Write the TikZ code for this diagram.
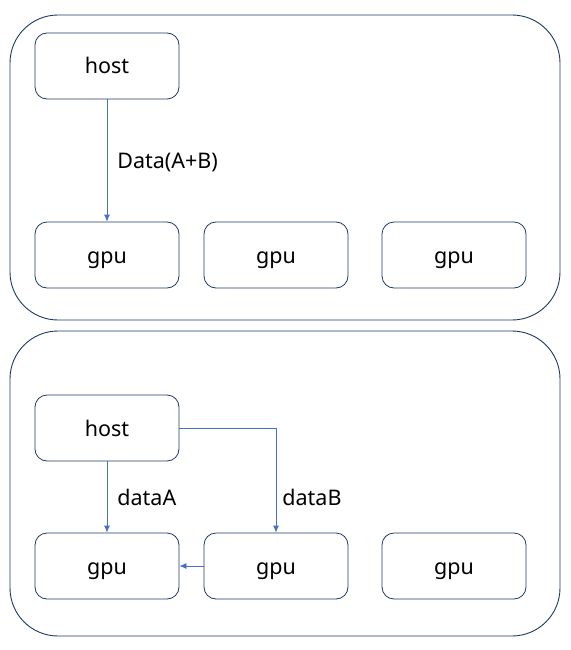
\documentclass[tikz,border=0pt]{standalone}
\usepackage{fontspec}
\setmainfont{Noto Sans}
\usepackage{xcolor}
\usepackage{tikz}
\usetikzlibrary{arrows.meta, positioning}
\definecolor{framecol}{HTML}{1F3864}
\definecolor{linkcol}{HTML}{4472C4}
\tikzstyle{frame} = [draw=framecol, line width=0.9pt, rounded corners=48pt]
\tikzstyle{unit} = [rectangle, rounded corners=12pt, minimum width=144pt, minimum height=66pt, text centered, text height=16pt, text depth=0pt, draw=framecol, line width=0.8pt, font=\fontsize{21.5}{24}\selectfont]
\tikzstyle{arrow} = [draw=linkcol, line width=0.8pt, -{Latex[length=7pt,width=6pt]}]
\tikzstyle{tag} = [font=\fontsize{21.5}{24}\selectfont, inner sep=0pt, text height=16pt, text depth=0pt]

\begin{document}
\begin{tikzpicture}[x=1pt, y=-1pt]
\useasboundingbox (0,0) rectangle (570,650);
% upper part
\draw [frame] (10,15) rectangle (560,320);
\node (hostA) [unit] at (107,66) {host};
\node (gpuA) [unit] at (107,255) {gpu};
\node (gpuB) [unit] at (276,255) {gpu};
\node (gpuC) [unit] at (454,255) {gpu};

\draw [arrow] (hostA) -- node[tag, right=10pt] {Data(A+B)} (gpuA);

% lower part
\draw [frame] (10,331) rectangle (560,636);
\node (hostB) [unit] at (107,428) {host};
\node (gpuD) [unit] at (107,566) {gpu};
\node (gpuE) [unit] at (276,566) {gpu};
\node (gpuF) [unit] at (454,566) {gpu};

\draw [arrow] (hostB) -- node[tag, right=10pt] {dataA} (gpuD);
\draw [arrow] (hostB.east) -| node[tag, pos=0.83, right=6pt] {dataB} (gpuE);
\draw [arrow] (gpuE) -- (gpuD);
\end{tikzpicture}
\end{document}
